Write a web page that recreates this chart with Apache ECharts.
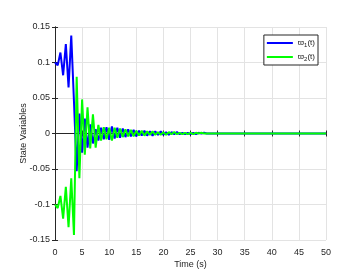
<!DOCTYPE html>
<html><head><meta charset="utf-8">
<script src="https://cdn.jsdelivr.net/npm/echarts@6/dist/echarts.min.js"></script>
<style>html,body{margin:0;padding:0;background:#fff}#c{width:353px;height:275px}</style>
</head><body><div id="c"></div>
<script>
var time = [0,0.5,1,1.5,2,2.5,3,3.5,4,4.5,5,5.5,6,6.5,7,7.5,8,8.5,9,9.5,10,10.5,11,11.5,12,12.5,13,13.5,14,14.5,15,15.5,16,16.5,17,17.5,18,18.5,19,19.5,20,20.5,21,21.5,22,22.5,23,23.5,24,24.5,25,25.5,26,26.5,27,27.5,28,28.5,29,29.5,30,35,40,45,50];
var x1 = [0.100,0.096,0.114,0.082,0.126,0.065,0.138,0.045,-0.053,0.028,-0.027,0.021,-0.020,0.013,-0.014,0.006,-0.010,0.008,-0.008,0.009,-0.009,0.010,-0.007,0.008,-0.006,0.007,-0.005,0.006,-0.004,0.005,-0.004,0.004,-0.003,0.004,-0.003,0.003,-0.003,0.003,-0.002,0.003,-0.002,0.002,-0.002,0.002,-0.001,0.002,-0.001,0.001,-0.001,0.001,-0.001,0.001,-0.001,0.001,0,0.001,0,0,0,0,0,0,0,0,0];
var x2 = [-0.100,-0.105,-0.088,-0.120,-0.075,-0.132,-0.063,-0.143,0.080,-0.063,0.048,-0.030,0.037,-0.021,0.027,-0.020,0.012,-0.010,0.009,-0.008,0.008,-0.010,0.008,-0.006,0.007,-0.005,0.006,-0.004,0.005,-0.004,0.004,-0.003,0.004,-0.003,0.003,-0.002,0.003,-0.002,0.002,-0.002,0.002,-0.002,0.002,-0.001,0.002,-0.001,0.001,-0.001,0.001,-0.001,0.001,-0.001,0.001,0,0.001,0,0,0,0,0,0,0,0,0,0];
var xTicks = [0,5,10,15,20,25,30,35,40,45,50];
var yTicks = [-0.15,-0.1,-0.05,0,0.05,0.1,0.15];
var names = ['x1','x2'];

function pairs(v){ return time.map(function(t,i){ return [t, v[i]]; }); }
var chart = echarts.init(document.getElementById('c'), null, {renderer:'canvas'});
var font = 'Liberation Sans, Arial, sans-serif';
var tickStyle = {show:true, inside:true, length:3, lineStyle:{color:'#262626'}};
var axLine = {show:true, lineStyle:{color:'#262626', width:1}};
chart.setOption({
  animation:false,
  backgroundColor:'#fff',
  grid:{left:55, right:27, top:27, bottom:35},
  legend:{
    right:35, top:35, orient:'vertical', itemWidth:26, itemHeight:2, itemGap:5,
    borderColor:'#262626', borderWidth:1, padding:[4,3,3,3], backgroundColor:'#fff',
    data:[{name:'x1', icon:'rect'},{name:'x2', icon:'rect'}],
    formatter:function(n){ return n==='x1' ? '{a|ϖ}{s|1}{a|(t)}' : '{a|ϖ}{s|2}{a|(t)}'; },
    textStyle:{ fontFamily:font, fontSize:8, color:'#222',
      rich:{a:{fontSize:8, fontFamily:font, color:'#222'}, s:{fontSize:6, fontFamily:font, color:'#222', padding:[4,0,0,0]}}}
  },
  xAxis:[{
    type:'value', min:0, max:50, interval:5, position:'bottom',
    name:'Time (s)', nameLocation:'middle', nameGap:20, nameMoveOverlap:false,
    nameTextStyle:{fontFamily:font, fontSize:9, color:'#262626'},
    axisLine:axLine, axisTick:tickStyle,
    axisLabel:{fontFamily:font, fontSize:9, color:'#262626', margin:8},
    splitLine:{show:true, lineStyle:{color:'#e3e3e3', width:1}}
  },{
    type:'value', min:0, max:50, interval:5, position:'top',
    axisLine:axLine, axisTick:tickStyle, axisLabel:{show:false}, splitLine:{show:false}
  }],
  yAxis:[{
    type:'value', min:-0.15, max:0.15, interval:0.05, position:'left',
    name:'State Variables', nameLocation:'middle', nameGap:27, nameRotate:90, nameMoveOverlap:false,
    nameTextStyle:{fontFamily:font, fontSize:9, color:'#262626'},
    axisLine:axLine, axisTick:tickStyle,
    axisLabel:{fontFamily:font, fontSize:9, color:'#262626', margin:5},
    splitLine:{show:true, lineStyle:{color:'#e3e3e3', width:1}}
  },{
    type:'value', min:-0.15, max:0.15, interval:0.05, position:'right',
    axisLine:axLine, axisTick:tickStyle, axisLabel:{show:false}, splitLine:{show:false}
  }],
  series:[
    {name:'x1', type:'line', data:pairs(x1), showSymbol:false, lineStyle:{color:'#0000ff', width:2}, itemStyle:{color:'#0000ff'}, z:3},
    {name:'x2', type:'line', data:pairs(x2), showSymbol:false, lineStyle:{color:'#00ff00', width:2}, itemStyle:{color:'#00ff00'}, z:4}
  ]
});
</script></body></html>
